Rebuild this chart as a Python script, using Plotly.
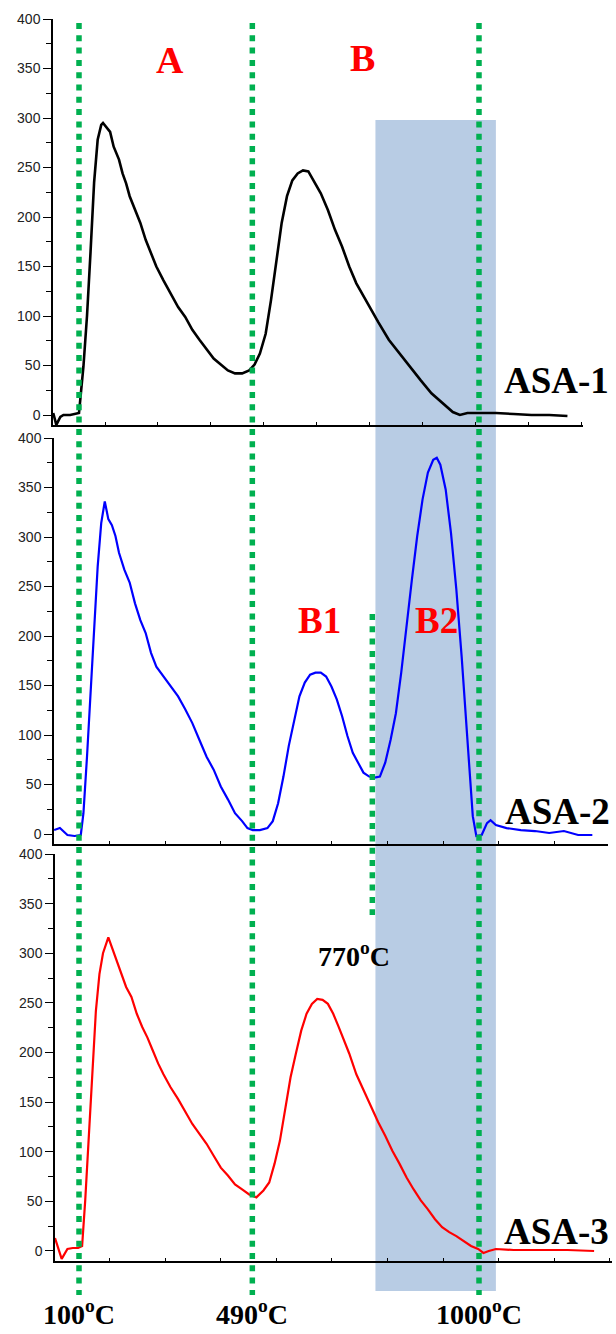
import plotly.graph_objects as go

# ---------------- data ----------------
asa1_temp = [42, 49, 58, 65, 80, 100, 110, 118, 126, 134, 142, 150, 154, 162, 170, 178, 190, 198,
             206, 214, 226, 238, 250, 262, 274, 290, 306, 323, 339, 355, 371, 387, 403, 419, 435,
             451, 467, 483, 495, 507, 520, 532, 544, 556, 568, 580, 592, 604, 616, 628, 644, 660,
             676, 692, 708, 724, 740, 757, 773, 797, 821, 845, 869, 893, 917, 941, 957, 974, 998,
             1038, 1078, 1118, 1158, 1199]
asa1_val = [2, -10, -2, 0, 0, 2, 49, 100, 165, 235, 278, 293, 295, 290, 286, 271, 258, 244,
            234, 221, 207, 194, 177, 163, 150, 136, 123, 109, 99, 86, 76, 66, 57, 51, 45,
            42, 42, 45, 51, 62, 82, 116, 157, 194, 221, 237, 244, 247, 246, 237, 224, 207,
            187, 170, 150, 133, 120, 106, 94, 76, 62, 49, 35, 22, 12, 3, 0, 2, 2,
            2, 1, 0, 0, -1]

asa2_temp = [44, 57, 74, 90, 104, 110, 118, 126, 134, 142, 150, 158, 166, 174, 182, 190, 202,
             214, 226, 238, 250, 262, 274, 290, 306, 323, 339, 355, 371, 387, 403, 419, 435, 451,
             467, 479, 491, 507, 524, 536, 548, 560, 572, 584, 596, 608, 620, 632, 644, 656, 668,
             680, 692, 704, 716, 728, 740, 753, 765, 777, 789, 801, 813, 825, 837, 849, 861, 873,
             885, 897, 905, 913, 925, 937, 949, 961, 974, 986, 994, 1006, 1018, 1026, 1038, 1062,
             1094, 1126, 1158, 1191, 1223, 1255]
asa2_val = [4, 6, -1, -2, -1, 21, 78, 146, 213, 270, 314, 336, 318, 312, 301, 284, 267,
            254, 233, 216, 203, 183, 169, 159, 149, 139, 126, 112, 95, 78, 65, 48, 35, 21,
            13, 6, 4, 4, 6, 13, 31, 58, 89, 115, 139, 153, 161, 163, 163, 159, 149,
            136, 119, 99, 82, 72, 62, 58, 57, 58, 72, 95, 122, 163, 213, 257, 301, 338,
            365, 378, 380, 373, 348, 304, 247, 179, 95, 18, -2, -1, 11, 14, 9, 6,
            4, 3, 1, 3, -1, -1]

asa3_temp = [46, 53, 61, 74, 86, 98, 107, 114, 122, 130, 138, 146, 154, 166, 174, 182, 194,
             206, 218, 230, 242, 254, 266, 278, 290, 306, 323, 339, 355, 371, 387, 403, 419, 435,
             451, 467, 483, 499, 515, 528, 540, 552, 564, 576, 588, 600, 612, 624, 636, 648, 660,
             672, 684, 696, 708, 724, 740, 757, 773, 789, 805, 821, 837, 853, 869, 885, 901, 917,
             933, 949, 965, 982, 998, 1010, 1022, 1038, 1078, 1118, 1158, 1199, 1259]
asa3_val = [13, 2, -8, 2, 3, 3, 5, 51, 118, 185, 242, 279, 300, 316, 306, 296, 283,
            266, 256, 239, 226, 215, 202, 189, 178, 165, 153, 141, 128, 118, 108, 96, 84, 76,
            67, 62, 57, 54, 61, 69, 88, 111, 145, 175, 199, 222, 239, 249, 254, 253, 249,
            239, 226, 212, 199, 178, 162, 146, 130, 116, 101, 88, 74, 62, 51, 42, 32, 24,
            19, 15, 10, 5, 2, -2, 0, 2, 1, 1, 1, 1, 0]

boundary_temps = [100, 490, 1000]
boundary_labels = ["100<sup>o</sup>C", "490<sup>o</sup>C", "1000<sup>o</sup>C"]
split_temp = 760
split_label = "770<sup>o</sup>C"
shade_range = [767, 1038]
y_ticks = [0, 50, 100, 150, 200, 250, 300, 350, 400]
sample_names = ["ASA-1", "ASA-2", "ASA-3"]
colors = ["black", "#0000FF", "#FF0000"]

W, H = 616, 1334


def px(v):
    return v / W


def py(v):
    return 1 - v / H


fig = go.Figure()
fig.add_trace(go.Scatter(x=asa1_temp, y=asa1_val, mode="lines", xaxis="x", yaxis="y",
                         line=dict(color=colors[0], width=2.6), showlegend=False))
fig.add_trace(go.Scatter(x=asa2_temp, y=asa2_val, mode="lines", xaxis="x2", yaxis="y2",
                         line=dict(color=colors[1], width=2.2), showlegend=False))
fig.add_trace(go.Scatter(x=asa3_temp, y=asa3_val, mode="lines", xaxis="x3", yaxis="y3",
                         line=dict(color=colors[2], width=2.2), showlegend=False))

tickfont = dict(family="Liberation Sans, Arial, sans-serif", size=14, color="#222")
yax = dict(range=[-10.1, 400], tickvals=y_ticks, ticks="outside", ticklen=8, tickwidth=1.3,
           tickcolor="black", showline=True, linecolor="black", linewidth=1.5,
           showgrid=False, zeroline=False, tickfont=tickfont, automargin=False,
           minor=dict(dtick=25, tick0=0, ticks="outside", ticklen=5, tickwidth=1.2,
                      tickcolor="black", showgrid=False))
xax = dict(showline=True, linecolor="black", linewidth=1.5, showgrid=False, zeroline=False,
           ticks="inside", ticklen=3, tickwidth=1, tickcolor="black", showticklabels=False,
           automargin=False)

fig.update_layout(
    width=W, height=H, autosize=False,
    margin=dict(l=0, r=0, t=0, b=0, pad=0, autoexpand=False),
    paper_bgcolor="white", plot_bgcolor="rgba(0,0,0,0)",
    xaxis=dict(domain=[px(53), px(583)], range=[41.5, 1234], anchor="y",
               tick0=158.5, dtick=119, **xax),
    yaxis=dict(domain=[py(425), py(19)], anchor="x", **yax),
    xaxis2=dict(domain=[px(54), px(608)], range=[43.75, 1290.25], anchor="y2",
                tick0=44, dtick=125, **xax),
    yaxis2=dict(domain=[py(844), py(438)], anchor="x2", **yax),
    xaxis3=dict(domain=[px(55), px(612)], range=[46, 1299.25], anchor="y3",
                tick0=44, dtick=125, **xax),
    yaxis3=dict(domain=[py(1261), py(854)], anchor="x3", **yax),
)

# shaded B2 region
fig.add_shape(type="rect", xref="x3", yref="paper", x0=shade_range[0], x1=shade_range[1],
              y0=py(1291), y1=py(120), fillcolor="#B8CCE4", line=dict(width=0), layer="below")

green = "#00B050"
dash = "6px,6.3px"
for t in boundary_temps:
    fig.add_shape(type="line", xref="x3", yref="paper", x0=t, x1=t, y0=py(23), y1=py(1295),
                  line=dict(color=green, width=5.5, dash=dash), layer="above")
fig.add_shape(type="line", xref="x3", yref="paper", x0=split_temp, x1=split_temp,
              y0=py(614), y1=py(915), line=dict(color=green, width=5.5, dash=dash), layer="above")

serif = "Liberation Serif, Times New Roman, serif"


def label(text, x, y, size, color, xref="paper"):
    fig.add_annotation(text=text, x=x, y=y, xref=xref, yref="paper", showarrow=False,
                       xanchor="center", yanchor="middle",
                       font=dict(family=serif, size=size, color=color, weight="bold"))


label("A", px(170), py(60), 38, "#FF0000")
label("B", px(362), py(58), 38, "#FF0000")
label("B1", px(320), py(620), 37, "#FF0000")
label("B2", px(436), py(620), 37, "#FF0000")
label(sample_names[0], px(556), py(380), 37, "black")
label(sample_names[1], px(557), py(811), 37, "black")
label(sample_names[2], px(556), py(1231), 37, "black")
label(split_label, split_temp - 42, py(954), 28, "black", xref="x3")
for t, lab in zip(boundary_temps, boundary_labels):
    label(lab, t, py(1312), 28, "black", xref="x3")

fig.write_html("out.html")
